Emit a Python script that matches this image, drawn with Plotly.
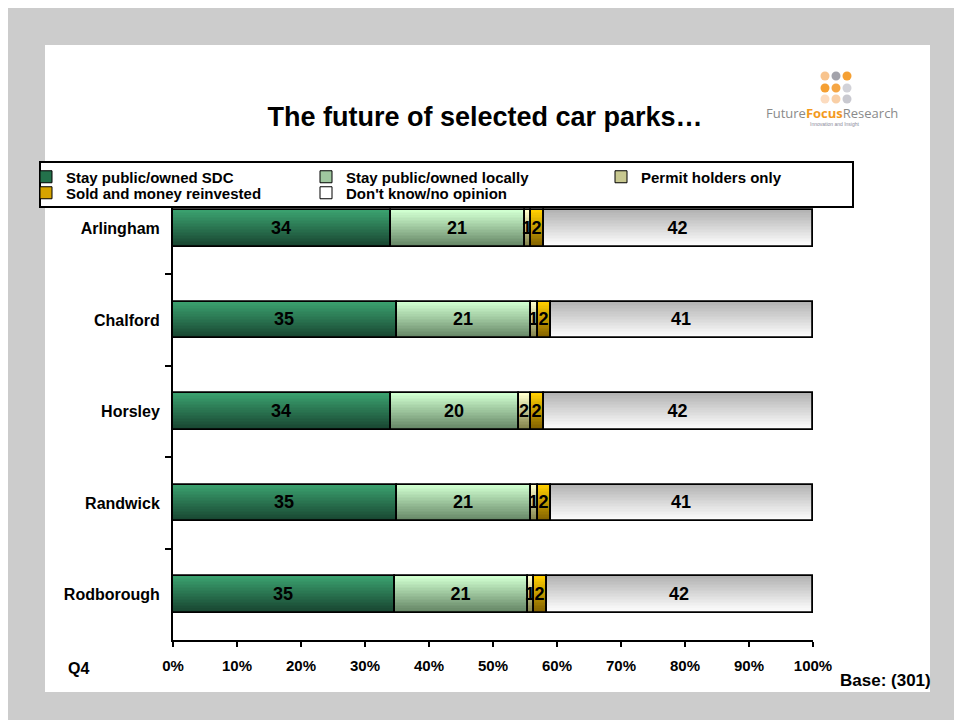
import plotly.graph_objects as go

# ---- data ----
categories = ["Arlingham", "Chalford", "Horsley", "Randwick", "Rodborough"]
series_names = [
    "Stay public/owned SDC",
    "Stay public/owned locally",
    "Permit holders only",
    "Sold and money reinvested",
    "Don't know/no opinion",
]
stay_sdc = [34, 35, 34, 35, 35]
stay_locally = [21, 21, 20, 21, 21]
permit_only = [1, 1, 2, 1, 1]
sold_reinvested = [2, 2, 2, 2, 2]
dont_know = [42, 41, 42, 41, 42]
x_tick_values = [0, 10, 20, 30, 40, 50, 60, 70, 80, 90, 100]
x_tick_labels = ["0%", "10%", "20%", "30%", "40%", "50%", "60%", "70%", "80%", "90%", "100%"]

series_values = [stay_sdc, stay_locally, permit_only, sold_reinvested, dont_know]

# vertical gradient per series: (top colour, bottom colour)
gradients = [
    ((58, 160, 110), (24, 68, 48)),
    ((208, 255, 208), (100, 132, 100)),
    ((255, 255, 204), (128, 128, 72)),
    ((255, 206, 0), (128, 96, 0)),
    ((180, 180, 180), (255, 255, 255)),
]
legend_swatch = ["#23714b", "#9fc79f", "#c8c890", "#d6a400", "#ffffff"]

W, H = 954, 720
L, R, T, B = 173, 141, 183, 80
PW, PH = W - L - R, H - T - B
FONT = "Liberation Sans"


def px_x(p):
    return (p - L) / PW


def px_y(p):
    return (H - B - p) / PH


def mix(c1, c2, t):
    return "rgb(%d,%d,%d)" % tuple(round(a + (b - a) * t) for a, b in zip(c1, c2))


# 100% stacked shares
totals = [sum(col) for col in zip(*series_values)]
shares = [[v / t * 100 for v, t in zip(vals, totals)] for vals in series_values]
bases = []
running = [0.0] * len(categories)
for sh in shares:
    bases.append(list(running))
    running = [r + s for r, s in zip(running, sh)]

BAR_W = 0.4
N_SLICES = 24
step = BAR_W / N_SLICES

fig = go.Figure()

for i, name in enumerate(series_names):
    top, bottom = gradients[i]
    for k in range(N_SLICES):
        fig.add_trace(go.Bar(
            y=categories, x=shares[i], base=bases[i], orientation="h",
            width=BAR_W - k * step, offset=-BAR_W / 2 + k * step,
            marker=dict(color=mix(top, bottom, k / (N_SLICES - 1)), line=dict(width=0)),
            showlegend=False, hoverinfo="skip",
        ))
    # outline + value labels
    fig.add_trace(go.Bar(
        y=categories, x=shares[i], base=bases[i], orientation="h",
        width=BAR_W, offset=-BAR_W / 2,
        marker=dict(color="rgba(0,0,0,0)", line=dict(color="black", width=1.8)),
        text=series_values[i], textposition="inside", insidetextanchor="middle",
        textangle=0, constraintext="none",
        insidetextfont=dict(family=FONT, size=18, color="black", weight="bold"),
        showlegend=False, hoverinfo="skip",
    ))

# legend entries, one small legend per entry so each sits in its own slot
legend_slots = [(26, 177), (306, 177), (601, 177), (26, 193), (306, 193)]
for i, name in enumerate(series_names):
    lg = "legend" if i == 0 else "legend%d" % (i + 1)
    fig.add_trace(go.Bar(
        y=[None], x=[None], orientation="h", name=name, legend=lg,
        marker=dict(color=legend_swatch[i], line=dict(color="black", width=1)),
        showlegend=True, hoverinfo="skip",
    ))

legend_common = dict(
    xref="container", yref="container", xanchor="left", yanchor="middle",
    bgcolor="rgba(0,0,0,0)", borderwidth=0, orientation="h",
    font=dict(family=FONT, size=15, color="black", weight="bold"),
)
legend_layout = {}
for i, (lx, ly) in enumerate(legend_slots):
    key = "legend" if i == 0 else "legend%d" % (i + 1)
    legend_layout[key] = dict(legend_common, x=lx / W, y=1 - ly / H)

shapes = [
    # grey frame and white panel
    dict(type="rect", xref="paper", yref="paper", layer="below",
         x0=px_x(8), x1=px_x(W + 2), y0=px_y(8), y1=px_y(H + 2),
         fillcolor="#cccccc", line=dict(width=0)),
    dict(type="rect", xref="paper", yref="paper", layer="below",
         x0=px_x(45), x1=px_x(930), y0=px_y(45), y1=px_y(692),
         fillcolor="white", line=dict(width=0)),
    # legend box
    dict(type="rect", xref="paper", yref="paper", layer="above",
         x0=px_x(40), x1=px_x(853), y0=px_y(162), y1=px_y(207),
         fillcolor="white", line=dict(color="black", width=2)),
]

# logo dots
dot_cols = [825, 836, 847]
dot_rows = [76, 88, 99]
dot_colors = [
    ["#f8c48e", "#a3a3ab", "#f5a033"],
    ["#f5a033", "#f5a645", "#d2d2d8"],
    ["#fcdcc0", "#f9cfa6", "#c9c9d0"],
]
for r, cy in enumerate(dot_rows):
    for c, cx in enumerate(dot_cols):
        shapes.append(dict(type="circle", xref="paper", yref="paper", layer="above",
                           x0=px_x(cx - 4.5), x1=px_x(cx + 4.5),
                           y0=px_y(cy + 4.5), y1=px_y(cy - 4.5),
                           fillcolor=dot_colors[r][c], line=dict(width=0)))

annotations = [
    dict(text="Q4", x=px_x(78), y=px_y(668), xref="paper", yref="paper",
         showarrow=False, xanchor="center", yanchor="middle",
         font=dict(family=FONT, size=16, color="black", weight="bold")),
    dict(text="Base: (301)", x=px_x(933), y=px_y(680), xref="paper", yref="paper",
         showarrow=False, xanchor="right", yanchor="middle",
         font=dict(family=FONT, size=17, color="black", weight="bold")),
    dict(text="<span style='color:#8a8a8a'>Future</span>"
              "<span style='color:#f39a1e'><b>Focus</b></span>"
              "<span style='color:#8a8a8a'>Research</span>",
         x=px_x(832), y=px_y(113), xref="paper", yref="paper",
         showarrow=False, xanchor="center", yanchor="middle",
         font=dict(family="Open Sans", size=13)),
    dict(text="Innovation and Insight", x=px_x(835), y=px_y(124),
         xref="paper", yref="paper", showarrow=False,
         xanchor="center", yanchor="middle",
         font=dict(family=FONT, size=5, color="#8a8a9a")),
]

fig.update_layout(
    width=W, height=H,
    margin=dict(l=L, r=R, t=T, b=B, pad=0, autoexpand=False),
    paper_bgcolor="white", plot_bgcolor="rgba(0,0,0,0)",
    barmode="overlay", bargap=0,
    uniformtext=dict(minsize=18, mode="show"),
    title=dict(text="<b>The future of selected car parks…</b>",
               x=485 / W, y=1 - 117 / H, xref="container", yref="container",
               xanchor="center", yanchor="middle",
               font=dict(family=FONT, size=27, color="black")),
    xaxis=dict(range=[0, 100], tickvals=x_tick_values, ticktext=x_tick_labels,
               ticks="outside", ticklen=5, tickwidth=1.5, tickcolor="black",
               showline=True, linecolor="black", linewidth=2,
               showgrid=False, zeroline=False, ticklabelstandoff=6,
               tickfont=dict(family=FONT, size=15, color="black", weight="bold")),
    yaxis=dict(type="category", categoryorder="array", categoryarray=categories,
               autorange="reversed", ticks="outside", tickson="boundaries",
               ticklen=6, tickwidth=1.5, tickcolor="black",
               showline=True, linecolor="black", linewidth=2,
               showgrid=False, zeroline=False, ticklabelstandoff=8,
               tickfont=dict(family=FONT, size=16, color="black", weight="bold")),
    shapes=shapes, annotations=annotations,
    **legend_layout,
)

fig.write_html("out.html")
